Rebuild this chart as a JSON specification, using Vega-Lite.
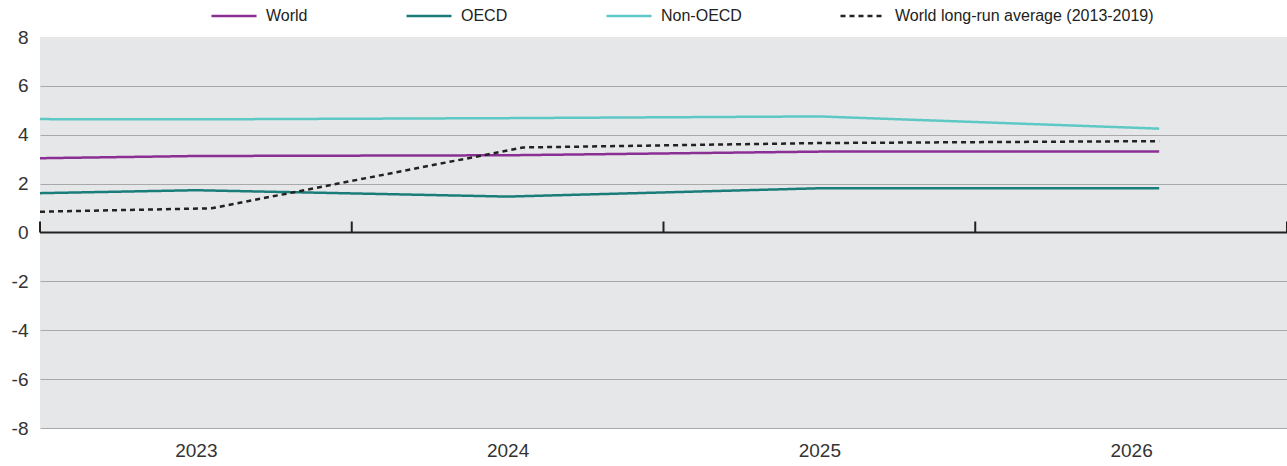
{
  "$schema": "https://vega.github.io/schema/vega-lite/v6.json",
  "width": 1247,
  "height": 391,
  "autosize": "none",
  "padding": {"left": 40, "top": 37, "right": 0, "bottom": 38},
  "background": "white",
  "config": {
    "view": {"fill": "#e6e7e9", "stroke": null},
    "font": "Liberation Sans"
  },
  "layer": [
    {
      "data": {"values": [
        {"series": "World", "t": 2023, "value": 3.04},
        {"series": "World", "t": 2023.5, "value": 3.13},
        {"series": "World", "t": 2024.5, "value": 3.16},
        {"series": "World", "t": 2025.5, "value": 3.31},
        {"series": "World", "t": 2026.59, "value": 3.31},
        {"series": "OECD", "t": 2023, "value": 1.61},
        {"series": "OECD", "t": 2023.5, "value": 1.73},
        {"series": "OECD", "t": 2024.5, "value": 1.47},
        {"series": "OECD", "t": 2025.5, "value": 1.81},
        {"series": "OECD", "t": 2026.59, "value": 1.81},
        {"series": "Non-OECD", "t": 2023, "value": 4.64},
        {"series": "Non-OECD", "t": 2023.5, "value": 4.63},
        {"series": "Non-OECD", "t": 2024.5, "value": 4.68},
        {"series": "Non-OECD", "t": 2025.5, "value": 4.75},
        {"series": "Non-OECD", "t": 2026.59, "value": 4.25},
        {"series": "World long-run average (2013-2019)", "t": 2023, "value": 0.85},
        {"series": "World long-run average (2013-2019)", "t": 2023.55, "value": 0.99},
        {"series": "World long-run average (2013-2019)", "t": 2024.55, "value": 3.48},
        {"series": "World long-run average (2013-2019)", "t": 2025.5, "value": 3.66},
        {"series": "World long-run average (2013-2019)", "t": 2026.59, "value": 3.74}
      ]},
      "mark": {"type": "line", "strokeWidth": 2.5, "strokeCap": "butt"},
      "encoding": {
        "x": {
          "field": "t", "type": "quantitative",
          "scale": {"domain": [2023, 2027], "nice": false, "zero": false},
          "axis": {
            "values": [2023.5, 2024.5, 2025.5, 2026.5],
            "labelExpr": "floor(datum.value)",
            "title": null, "grid": false, "domain": false, "ticks": false,
            "labelFontSize": 19, "labelColor": "#333333", "labelPadding": 13,
            "labelFont": "Liberation Sans"
          }
        },
        "y": {
          "field": "value", "type": "quantitative",
          "scale": {"domain": [-8, 8], "nice": false},
          "axis": {
            "values": [-8, -6, -4, -2, 0, 2, 4, 6, 8],
            "labelExpr": "(datum.value < 0 ? '-' : '') + abs(datum.value)",
            "title": null, "domain": false, "ticks": false,
            "grid": true, "gridColor": "#a9a9ab", "gridWidth": 1.2,
            "gridOpacity": {"condition": {"test": "datum.value == 8 || datum.value == 0", "value": 0}, "value": 1},
            "labelFontSize": 19, "labelColor": "#333333", "labelPadding": 12,
            "labelFont": "Liberation Sans"
          }
        },
        "color": {
          "field": "series", "type": "nominal",
          "scale": {
            "domain": ["World", "OECD", "Non-OECD", "World long-run average (2013-2019)"],
            "range": ["#8a2f93", "#1b7d7a", "#5ec8c5", "#222222"]
          },
          "legend": {
            "title": null, "orient": "none", "direction": "horizontal",
            "legendX": 170, "legendY": -45,
            "symbolType": "stroke", "symbolSize": 2025, "symbolStrokeWidth": 2.5,
            "labelFontSize": 16, "labelColor": "#222222", "labelFont": "Liberation Sans",
            "labelLimit": 500, "columnPadding": 93, "labelOffset": 8
          }
        },
        "strokeDash": {
          "field": "series", "type": "nominal",
          "scale": {
            "domain": ["World", "OECD", "Non-OECD", "World long-run average (2013-2019)"],
            "range": [[1, 0], [1, 0], [1, 0], [5, 4]]
          },
          "legend": {
            "title": null, "orient": "none", "direction": "horizontal",
            "legendX": 170, "legendY": -45,
            "symbolType": "stroke", "symbolSize": 2025, "symbolStrokeWidth": 2.5,
            "labelFontSize": 16, "labelColor": "#222222", "labelFont": "Liberation Sans",
            "labelLimit": 500, "columnPadding": 93, "labelOffset": 8
          }
        }
      }
    },
    {
      "data": {"values": [{"v": 0}]},
      "mark": {"type": "rule", "color": "#222222", "strokeWidth": 2},
      "encoding": {"y": {"datum": 0, "type": "quantitative"}}
    },
    {
      "data": {"values": [
        {"t": 2023, "y0": 0, "y1": 0.45},
        {"t": 2024, "y0": 0, "y1": 0.45},
        {"t": 2025, "y0": 0, "y1": 0.45},
        {"t": 2026, "y0": 0, "y1": 0.45},
        {"t": 2027, "y0": 0, "y1": 0.45}
      ]},
      "mark": {"type": "rule", "color": "#222222", "strokeWidth": 2},
      "encoding": {
        "x": {"field": "t", "type": "quantitative"},
        "y": {"field": "y0", "type": "quantitative"},
        "y2": {"field": "y1"}
      }
    }
  ]
}
